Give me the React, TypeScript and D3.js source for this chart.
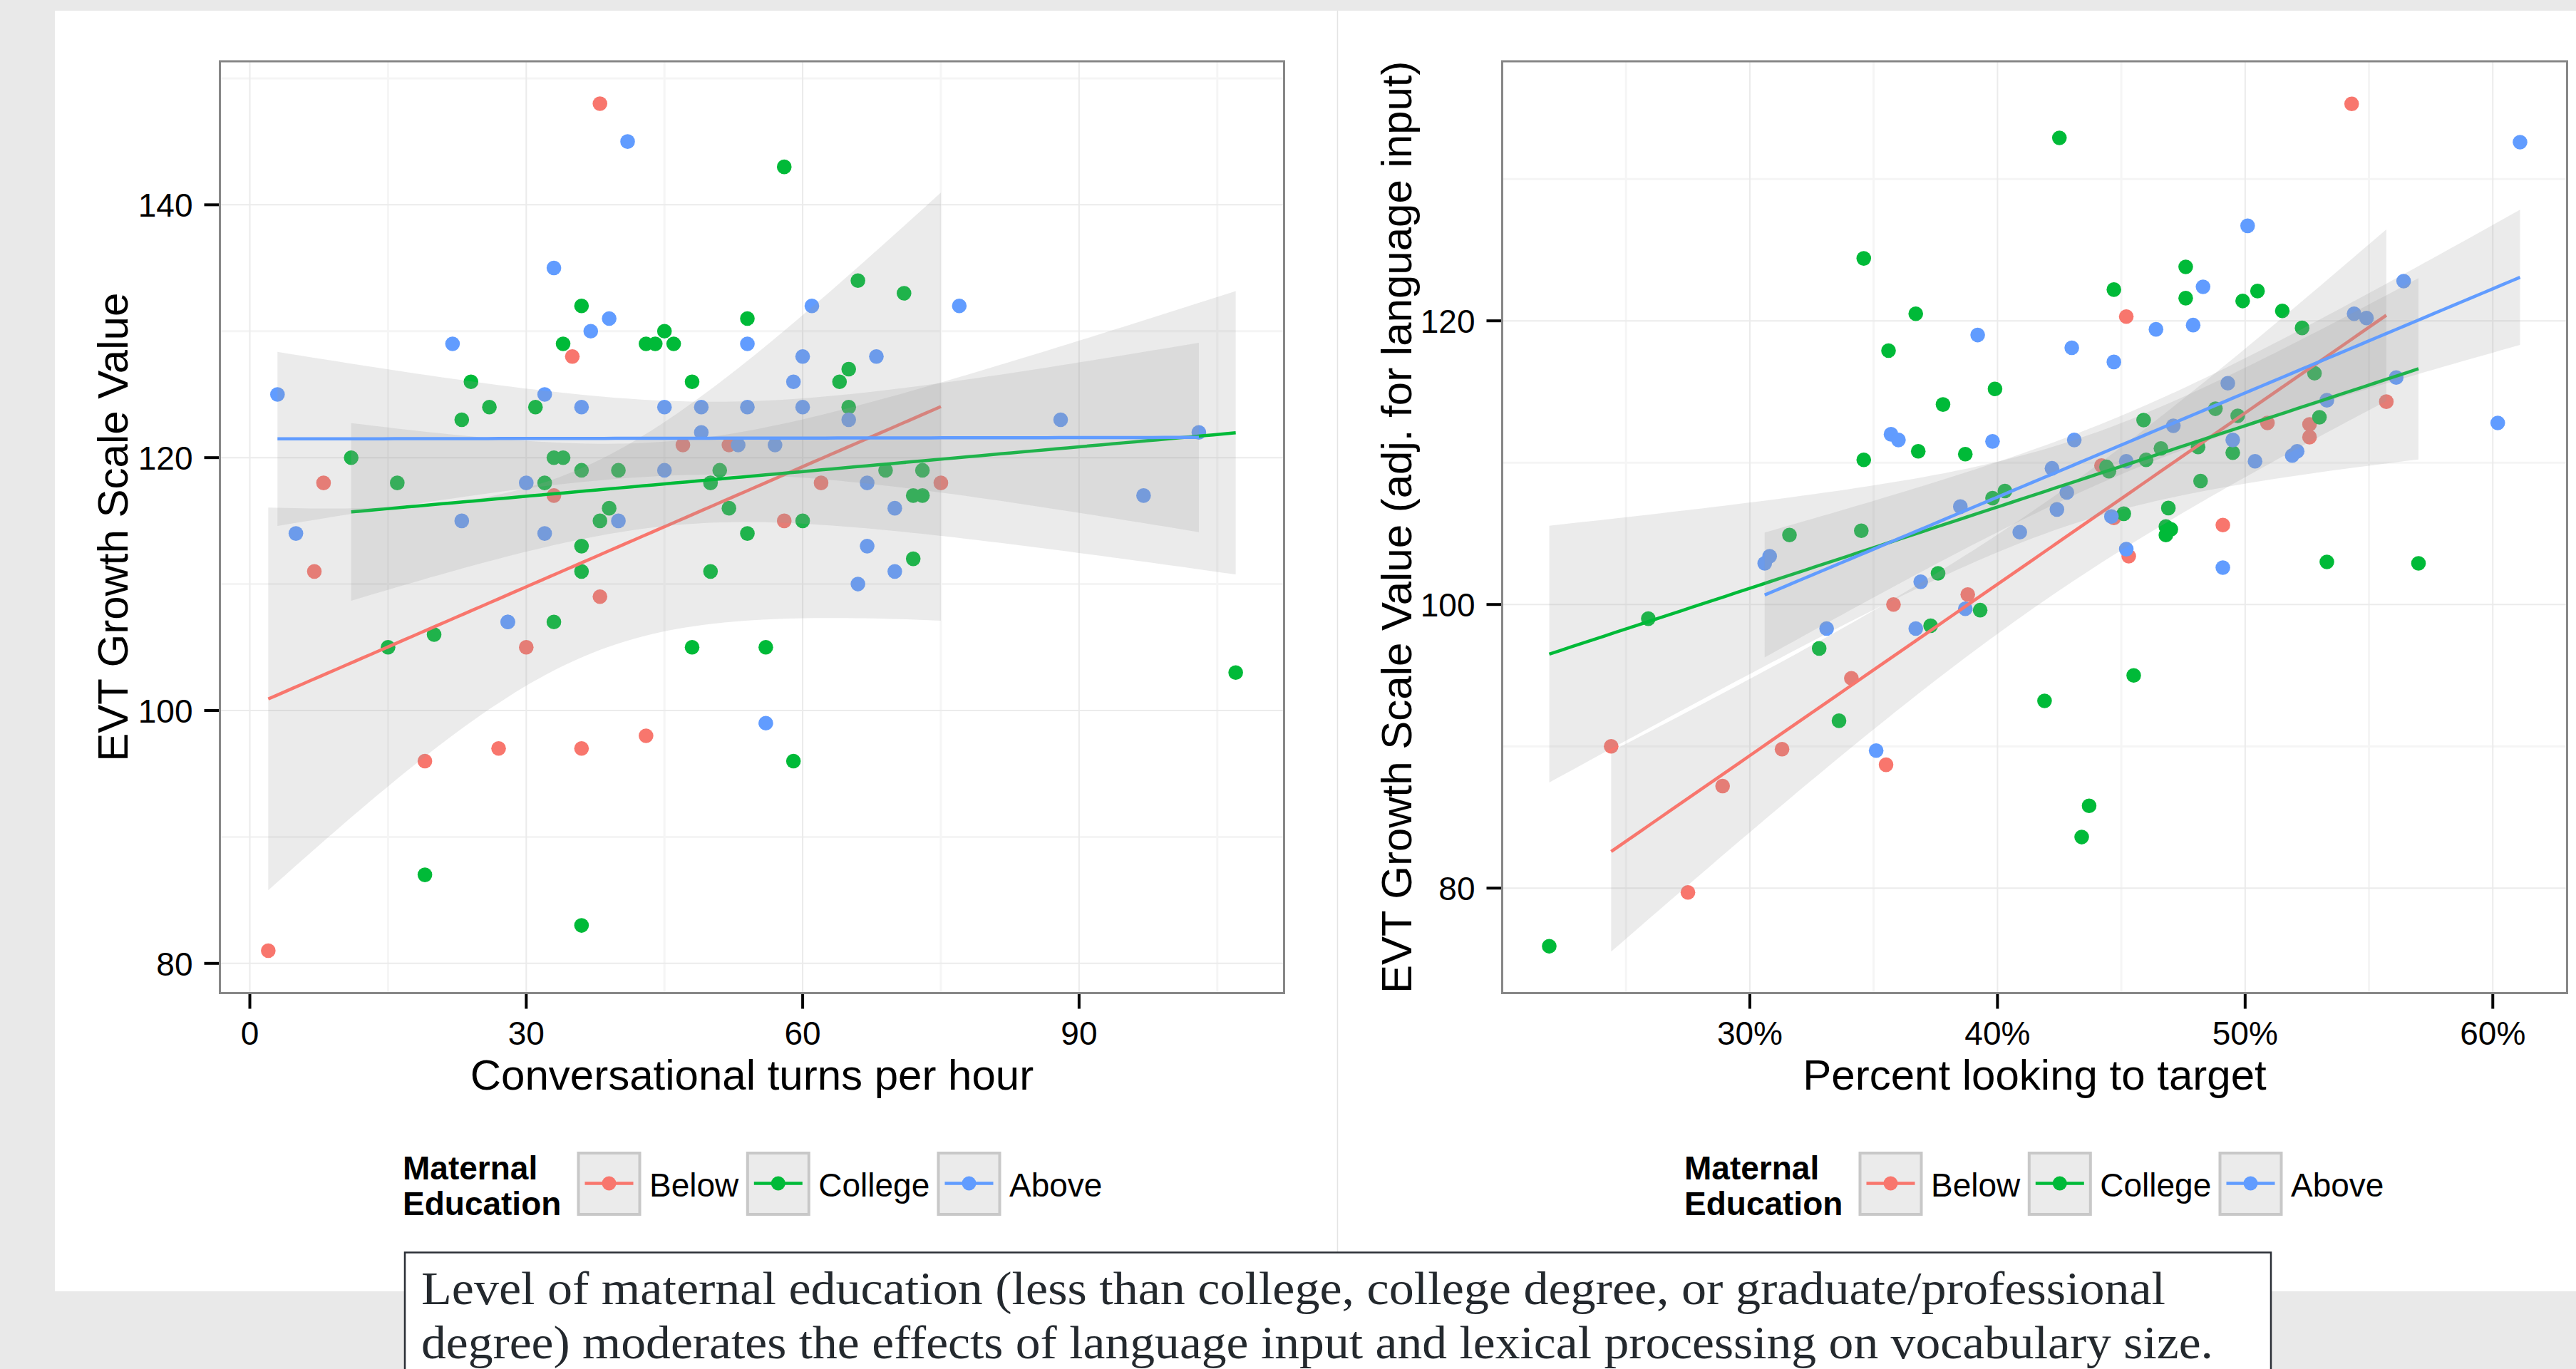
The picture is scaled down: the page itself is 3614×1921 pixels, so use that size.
import React from 'react';
import * as d3 from 'd3';

type Pt = [number, number];

const GROUPS = ['Below', 'College', 'Above'];
const COLORS = ['#F8766D', '#00BA38', '#619CFF'];

// Left panel: conversational turns per hour vs EVT growth scale value
const leftBelow: Pt[] = [[38,148],[35,128],[47,121],[52,121],[8,118],[62,118],[75,118],[33,117],[58,115],[7,111],[38,109],[30,105],[19,96],[27,97],[36,97],[43,98],[2,81]];
const leftCollege: Pt[] = [[58,143],[66,134],[71,133],[36,132],[54,131],[45,130],[34,129],[43,129],[44,129],[46,129],[65,127],[24,126],[48,126],[64,126],[26,124],[31,124],[65,124],[23,123],[11,120],[33,120],[34,120],[36,119],[40,119],[51,119],[69,119],[73,119],[16,118],[32,118],[50,118],[72,117],[73,117],[39,116],[52,116],[38,115],[60,115],[54,114],[36,113],[72,112],[36,111],[50,111],[33,107],[20,106],[15,105],[48,105],[56,105],[107,103],[59,96],[19,87],[36,83]];
const leftAbove: Pt[] = [[41,145],[33,135],[77,132],[61,132],[39,131],[37,130],[22,129],[54,129],[60,128],[68,128],[59,126],[3,125],[32,125],[36,124],[45,124],[49,124],[54,124],[60,124],[65,123],[88,123],[49,122],[103,122],[53,121],[57,121],[45,119],[30,118],[67,118],[97,117],[70,116],[23,115],[40,115],[5,114],[32,114],[67,113],[70,111],[66,110],[28,107],[28,107],[56,99]];

// Right panel: percent looking to target vs adjusted EVT
const rightBelow: Pt[] = [[54.3,135.3],[45.2,120.3],[55.7,114.3],[50.9,112.8],[52.6,112.7],[52.6,111.8],[44.2,109.8],[44.7,106.1],[49.1,105.6],[45.3,103.4],[38.8,100.7],[35.8,100.0],[34.1,94.8],[24.4,90.0],[31.3,89.8],[35.5,88.7],[28.9,87.2],[27.5,79.7]];
const rightCollege: Pt[] = [[42.5,132.9],[34.6,124.4],[47.6,123.8],[44.7,122.2],[47.6,121.6],[50.5,122.1],[49.9,121.4],[36.7,120.5],[51.5,120.7],[52.3,119.5],[35.6,117.9],[52.8,116.3],[39.9,115.2],[37.8,114.1],[48.8,113.8],[45.9,113.0],[49.7,113.3],[53.0,113.2],[46.6,111.0],[48.1,111.1],[36.8,110.8],[38.7,110.6],[34.6,110.2],[49.5,110.7],[46.0,110.2],[44.4,109.7],[44.5,109.4],[48.2,108.7],[40.3,108.0],[39.8,107.5],[46.9,106.8],[45.1,106.4],[46.8,105.5],[47.0,105.3],[46.8,104.9],[34.5,105.2],[31.6,104.9],[53.3,103.0],[57.0,102.9],[37.6,102.2],[39.3,99.6],[25.9,99.0],[37.3,98.5],[32.8,96.9],[45.5,95.0],[41.9,93.2],[33.6,91.8],[43.7,85.8],[43.4,83.6],[21.9,75.9]];
const rightAbove: Pt[] = [[61.1,132.6],[50.1,126.7],[48.3,122.4],[56.4,122.8],[54.4,120.5],[54.9,120.2],[46.4,119.4],[47.9,119.7],[39.2,119.0],[43.0,118.1],[44.7,117.1],[56.1,116.0],[49.3,115.6],[53.3,114.4],[60.2,112.8],[35.7,112.0],[36.0,111.6],[39.8,111.5],[43.1,111.6],[49.5,111.6],[51.9,110.5],[52.1,110.8],[50.4,110.1],[45.2,110.1],[42.2,109.6],[42.8,107.9],[38.5,106.9],[42.4,106.7],[44.6,106.2],[40.9,105.1],[45.2,103.9],[30.8,103.4],[30.6,102.9],[49.1,102.6],[36.9,101.6],[38.7,99.7],[33.1,98.3],[36.7,98.3],[35.1,89.7],[47.1,112.6]];

const leftXTicks = [0, 30, 60, 90];
const leftXMinor = [15, 45, 75, 105];
const leftYTicks = [80, 100, 120, 140];
const leftYMinor = [90, 110, 130, 150];
const rightXTicks = [30, 40, 50, 60];
const rightXMinor = [25, 35, 45, 55];
const rightYTicks = [80, 100, 120];
const rightYMinor = [90, 110, 130];

const CAPTION = [
  'Level of maternal education (less than college, college degree, or graduate/professional',
  'degree) moderates the effects of language input and lexical processing on vocabulary size.',
];

const SANS = '"Liberation Sans", Arial, sans-serif';
const SERIF = '"Liberation Serif", "Times New Roman", serif';

function qt975(df: number) {
  const z = 1.959964;
  const g1 = (z ** 3 + z) / 4;
  const g2 = (5 * z ** 5 + 16 * z ** 3 + 3 * z) / 96;
  const g3 = (3 * z ** 7 + 19 * z ** 5 + 17 * z ** 3 - 15 * z) / 384;
  return z + g1 / df + g2 / df ** 2 + g3 / df ** 3;
}

function lmBand(pts: Pt[], nEval = 80) {
  const n = pts.length;
  const mx = d3.mean(pts, (p) => p[0]) as number;
  const my = d3.mean(pts, (p) => p[1]) as number;
  let sxx = 0, sxy = 0;
  for (const [x, y] of pts) { sxx += (x - mx) ** 2; sxy += (x - mx) * (y - my); }
  const b = sxy / sxx, a = my - b * mx;
  let sse = 0;
  for (const [x, y] of pts) sse += (y - a - b * x) ** 2;
  const s = Math.sqrt(sse / (n - 2));
  const t = qt975(n - 2);
  const [xmin, xmax] = d3.extent(pts, (p) => p[0]) as [number, number];
  return d3.range(nEval).map((i) => {
    const x = xmin + ((xmax - xmin) * i) / (nEval - 1);
    const f = a + b * x;
    const se = s * Math.sqrt(1 / n + (x - mx) ** 2 / sxx);
    return { x, f, lo: f - t * se, hi: f + t * se };
  });
}

interface PanelProps {
  id: string;
  left: number; right: number; top: number; bottom: number;
  xDomain: [number, number]; yDomain: [number, number];
  series: Pt[][];
  xTicks: number[]; xMinor: number[]; yTicks: number[]; yMinor: number[];
  xFmt: (v: number) => string;
  xTitle: string; yTitle: string; yTitleX: number;
  legendDx: number;
}

function Panel(p: PanelProps) {
  const x = d3.scaleLinear().domain(p.xDomain).range([p.left, p.right]);
  const y = d3.scaleLinear().domain(p.yDomain).range([p.bottom, p.top]);
  const area = d3.area<{ x: number; lo: number; hi: number }>()
    .x((d) => x(d.x)).y0((d) => y(d.lo)).y1((d) => y(d.hi));
  const line = d3.line<{ x: number; f: number }>().x((d) => x(d.x)).y((d) => y(d.f));
  const bands = p.series.map((s) => lmBand(s));
  const cx = (p.left + p.right) / 2;
  const cy = (p.top + p.bottom) / 2;
  const keyOffsets = [0, 237.3, 505];
  const legendKeyX = 811.5 + p.legendDx;
  return (
    <g>
      <defs>
        <clipPath id={`clip-${p.id}`}>
          <rect x={p.left} y={p.top} width={p.right - p.left} height={p.bottom - p.top} />
        </clipPath>
      </defs>
      <rect x={p.left} y={p.top} width={p.right - p.left} height={p.bottom - p.top} fill="#fff" />
      {p.xMinor.map((v) => (
        <line key={`xm${v}`} x1={x(v)} x2={x(v)} y1={p.top} y2={p.bottom} stroke="#F5F5F5" strokeWidth={3} />
      ))}
      {p.yMinor.map((v) => (
        <line key={`ym${v}`} x1={p.left} x2={p.right} y1={y(v)} y2={y(v)} stroke="#F5F5F5" strokeWidth={3} />
      ))}
      {p.xTicks.map((v) => (
        <line key={`xg${v}`} x1={x(v)} x2={x(v)} y1={p.top} y2={p.bottom} stroke="#EBEBEB" strokeWidth={2} />
      ))}
      {p.yTicks.map((v) => (
        <line key={`yg${v}`} x1={p.left} x2={p.right} y1={y(v)} y2={y(v)} stroke="#EBEBEB" strokeWidth={2} />
      ))}
      <g clipPath={`url(#clip-${p.id})`}>
        {p.series.map((s, gi) =>
          s.map((d, i) => (
            <circle key={`p${gi}-${i}`} cx={x(d[0])} cy={y(d[1])} r={10.3} fill={COLORS[gi]} />
          ))
        )}
        {bands.map((b, gi) => (
          <g key={`b${gi}`}>
            <path d={area(b) || ''} fill="#999999" fillOpacity={0.2} />
            <path d={line(b) || ''} fill="none" stroke={COLORS[gi]} strokeWidth={4.5} />
          </g>
        ))}
      </g>
      <rect x={p.left} y={p.top} width={p.right - p.left} height={p.bottom - p.top} fill="none" stroke="#878787" strokeWidth={3} />
      {p.yTicks.map((v) => (
        <g key={`yt${v}`}>
          <line x1={p.left - 22} x2={p.left - 1.5} y1={y(v)} y2={y(v)} stroke="#000" strokeWidth={4} />
          <text x={p.left - 38} y={y(v) + 17} textAnchor="end" fontFamily={SANS} fontSize={46} fill="#000">{v}</text>
        </g>
      ))}
      {p.xTicks.map((v) => (
        <g key={`xt${v}`}>
          <line x1={x(v)} x2={x(v)} y1={p.bottom + 1.5} y2={p.bottom + 22} stroke="#000" strokeWidth={4} />
          <text x={x(v)} y={1466} textAnchor="middle" fontFamily={SANS} fontSize={46} fill="#000">{p.xFmt(v)}</text>
        </g>
      ))}
      <text x={cx} y={1529} textAnchor="middle" fontFamily={SANS} fontSize={60} fill="#000">{p.xTitle}</text>
      <text transform={`translate(${p.yTitleX},${cy}) rotate(-90)`} textAnchor="middle" fontFamily={SANS} fontSize={60} fill="#000">{p.yTitle}</text>
      <text x={565 + p.legendDx} y={1655} fontFamily={SANS} fontSize={46} fontWeight="bold" fill="#000">Maternal</text>
      <text x={565 + p.legendDx} y={1705} fontFamily={SANS} fontSize={46} fontWeight="bold" fill="#000">Education</text>
      {GROUPS.map((g, gi) => {
        const kx = legendKeyX + keyOffsets[gi];
        return (
          <g key={`lg${gi}`}>
            <rect x={kx} y={1618} width={86} height={86} fill="#EBEBEB" stroke="#C8C8C8" strokeWidth={4} />
            <line x1={kx + 9} x2={kx + 77} y1={1660.5} y2={1660.5} stroke={COLORS[gi]} strokeWidth={4.5} />
            <circle cx={kx + 43} cy={1660.5} r={10} fill={COLORS[gi]} />
            <text x={kx + 99.5} y={1679} fontFamily={SANS} fontSize={46} fill="#000">{g}</text>
          </g>
        );
      })}
    </g>
  );
}

export default function App() {
  return (
    <svg width={3614} height={1921} style={{ position: 'absolute', left: 0, top: 0 }} xmlns="http://www.w3.org/2000/svg">
      <rect x={0} y={0} width={3614} height={1921} fill="#E9E9E9" />
      <rect x={77} y={15} width={3537} height={1797} fill="#FFFFFF" />
      <line x1={1876.5} x2={1876.5} y1={15} y2={1812} stroke="#E4E4E4" strokeWidth={1.5} />
      <Panel
        id="left" left={308.5} right={1801.5} top={86} bottom={1393.5}
        xDomain={[-3.25, 112.25]} yDomain={[77.65, 151.35]}
        series={[leftBelow, leftCollege, leftAbove]}
        xTicks={leftXTicks} xMinor={leftXMinor} yTicks={leftYTicks} yMinor={leftYMinor}
        xFmt={(v) => String(v)}
        xTitle="Conversational turns per hour" yTitle="EVT Growth Scale Value" yTitleX={179}
        legendDx={0}
      />
      <Panel
        id="right" left={2107.5} right={3601.5} top={86} bottom={1393.5}
        xDomain={[20, 63]} yDomain={[72.6, 138.3]}
        series={[rightBelow, rightCollege, rightAbove]}
        xTicks={rightXTicks} xMinor={rightXMinor} yTicks={rightYTicks} yMinor={rightYMinor}
        xFmt={(v) => `${v}%`}
        xTitle="Percent looking to target" yTitle="EVT Growth Scale Value (adj. for language input)" yTitleX={1980}
        legendDx={1798}
      />
      <rect x={568} y={1757.5} width={2618} height={200} fill="#FFFFFF" stroke="#2B2F36" strokeWidth={2.5} />
      <text x={591} y={1830} fontFamily={SERIF} fontSize={66} fill="#24292E" textLength={2447} lengthAdjust="spacingAndGlyphs">{CAPTION[0]}</text>
      <text x={591} y={1906} fontFamily={SERIF} fontSize={66} fill="#24292E" textLength={2514} lengthAdjust="spacingAndGlyphs">{CAPTION[1]}</text>
    </svg>
  );
}
